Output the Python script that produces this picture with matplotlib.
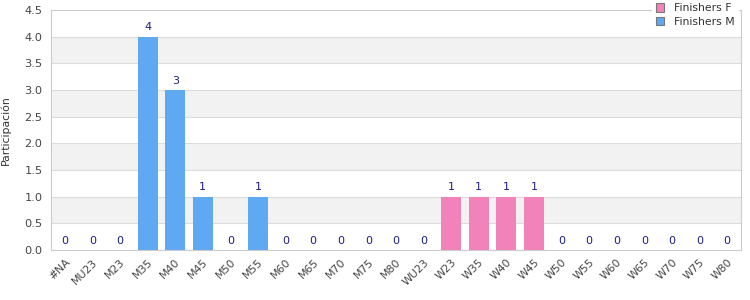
import matplotlib
matplotlib.use("Agg")
import matplotlib.pyplot as plt
from matplotlib.patches import Patch
import numpy as np

categories = ["#NA", "MU23", "M23", "M35", "M40", "M45", "M50", "M55", "M60", "M65",
              "M70", "M75", "M80", "WU23", "W23", "W35", "W40", "W45", "W50", "W55",
              "W60", "W65", "W70", "W75", "W80"]
finishers_m = [0, 0, 0, 4, 3, 1, 0, 1, 0, 0, 0, 0, 0, None, None, None, None, None,
               None, None, None, None, None, None, None]
finishers_f = [None, None, None, None, None, None, None, None, None, None, None, None, None,
               0, 1, 1, 1, 1, 0, 0, 0, 0, 0, 0, 0]

col_m = "#5fa8f2"
col_f = "#f283ba"
lab_col = "#1c1c8c"

fig = plt.figure(figsize=(7.5, 3.0), dpi=100)
ax = fig.add_axes([0.068, 0.1667, 0.920, 0.800])

x = np.arange(len(categories))
ax.set_xlim(-0.5, len(categories) - 0.5)
ax.set_ylim(0, 4.5)

for lo in np.arange(0.5, 4.5, 1.0):
    ax.axhspan(lo, lo + 0.5, color="#f2f2f2", zorder=0, lw=0)
ax.set_yticks(np.arange(0, 4.51, 0.5))
ax.yaxis.grid(True, color="#dcdcdc", lw=0.8, zorder=0.5)
ax.set_axisbelow(True)

w = 0.72
for series, col in ((finishers_m, col_m), (finishers_f, col_f)):
    xs = [i for i, v in enumerate(series) if v is not None]
    vs = [series[i] for i in xs]
    ax.bar(xs, vs, width=w, color=col, zorder=2)
    for xi, v in zip(xs, vs):
        ax.annotate(f"{v}", (xi, v), xytext=(0, 3), textcoords="offset points",
                    ha="center", va="bottom", fontsize=8, color=lab_col, zorder=3)

ax.set_xticks(x)
ax.set_xticklabels(categories, rotation=45, ha="right", rotation_mode="anchor",
                   fontsize=7.8, color="#444444")
ax.tick_params(axis="x", length=0, pad=5)
ax.tick_params(axis="y", length=0, labelsize=8.2, labelcolor="#444444", pad=6)
for s in ax.spines.values():
    s.set_color("#cccccc")
    s.set_linewidth(0.8)

ax.set_ylabel("Participación", fontsize=7.8, color="#333333", labelpad=10)

handles = [Patch(facecolor=col_f, edgecolor="#777777", lw=0.8, label="Finishers F"),
           Patch(facecolor=col_m, edgecolor="#777777", lw=0.8, label="Finishers M")]
leg = fig.legend(handles=handles, loc="upper right", bbox_to_anchor=(0.984, 1.0),
                 frameon=True, fontsize=7.8, handlelength=0.8, handleheight=0.8,
                 handletextpad=0.9, labelspacing=0.35, borderpad=0.3, borderaxespad=0.0)
leg.get_frame().set_facecolor("white")
leg.get_frame().set_edgecolor("white")
leg.get_frame().set_alpha(1)
for t in leg.get_texts():
    t.set_color("#333333")

fig.savefig("out.png", dpi=100)
